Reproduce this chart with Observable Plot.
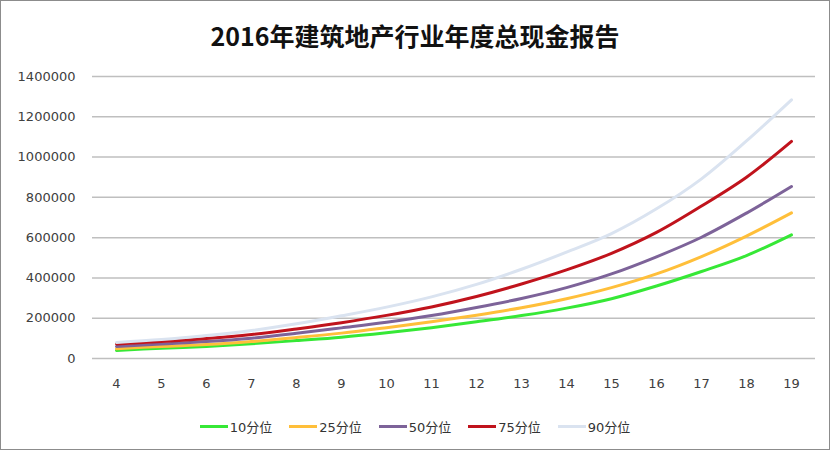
<!DOCTYPE html>
<html>
<head>
<meta charset="utf-8">
<script src="https://cdn.jsdelivr.net/npm/d3@7"></script>
<script src="https://cdn.jsdelivr.net/npm/@observablehq/plot@0.6"></script>
<style>
  html, body { margin: 0; padding: 0; background: #fff; }
  #frame { width: 830px; height: 450px; box-sizing: border-box; border: 1px solid #8c8c8c; position: relative; overflow: hidden; font-family: "DejaVu Sans", "Noto Sans CJK SC", sans-serif; }
  #title { height: 59px; line-height: 68px; text-align: center; font-size: 25px; font-weight: bold; color: #111; font-family: "Noto Sans CJK SC", sans-serif; }
  #legend { display: flex; justify-content: center; gap: 17px; margin-top: 12px; font-size: 13px; color: #333; padding-left: 0px; }
  .item { display: flex; align-items: center; }
  .sw { width: 28px; height: 3px; margin-right: 2px; }
</style>
</head>
<body>
<div id="frame">
  <div id="title">2016年建筑地产行业年度总现金报告</div>
  <div id="chart"></div>
  <div id="legend"></div>
</div>
<script>
const categories = [4, 5, 6, 7, 8, 9, 10, 11, 12, 13, 14, 15, 16, 17, 18, 19];
const p10 = [40000, 51000, 60000, 73000, 89000, 106000, 128000, 153000, 182000, 213000, 250000, 297000, 360000, 432000, 511000, 614000];
const p25 = [48000, 60000, 69000, 84000, 104000, 126000, 153000, 182000, 215000, 252000, 297000, 352000, 420000, 506000, 608000, 723000];
const p50 = [60000, 72000, 84000, 101000, 125000, 152000, 180000, 213000, 253000, 298000, 352000, 420000, 505000, 602000, 722000, 854000];
const p75 = [72000, 84000, 99000, 119000, 147000, 178000, 214000, 256000, 308000, 370000, 440000, 522000, 626000, 757000, 900000, 1078000];
const p90 = [80000, 94000, 114000, 139000, 172000, 212000, 255000, 306000, 368000, 443000, 528000, 620000, 743000, 892000, 1080000, 1284000];
const seriesNames = ["10分位", "25分位", "50分位", "75分位", "90分位"];
const seriesColors = ["#36e836", "#ffbf3a", "#7d6399", "#c0131c", "#dae3f0"];
const yTicks = [0, 200000, 400000, 600000, 800000, 1000000, 1200000, 1400000];

const seriesValues = [p10, p25, p50, p75, p90];
const data = [];
seriesNames.forEach((name, i) => {
  categories.forEach((c, j) => data.push({series: name, x: c, y: seriesValues[i][j]}));
});

const chart = Plot.plot({
  width: 828,
  height: 345,
  marginLeft: 91,
  marginRight: 14,
  marginTop: 16,
  marginBottom: 47,
  style: {fontFamily: "'DejaVu Sans', sans-serif", fontSize: "13px", color: "#333"},
  x: {type: "point", domain: categories, padding: 0.5, label: null},
  y: {domain: [0, 1400000], label: null},
  color: {domain: seriesNames, range: seriesColors},
  marks: [
    Plot.gridY(yTicks, {stroke: "#bfbfbf", strokeOpacity: 1, strokeWidth: 1.5}),
    Plot.axisY(yTicks, {tickSize: 0, tickPadding: 17, tickFormat: d => String(d), fill: "#404040", fontSize: 13, label: null}),
    Plot.axisX({tickSize: 0, tickPadding: 20, fill: "#404040", fontSize: 13, label: null}),
    Plot.line(data, {x: "x", y: "y", z: "series", stroke: "series", strokeWidth: 3, curve: "catmull-rom"})
  ]
});
document.getElementById("chart").appendChild(chart);

const legend = document.getElementById("legend");
seriesNames.forEach((name, i) => {
  const item = document.createElement("div");
  item.className = "item";
  const sw = document.createElement("div");
  sw.className = "sw";
  sw.style.background = seriesColors[i];
  const t = document.createElement("span");
  t.textContent = name;
  item.appendChild(sw);
  item.appendChild(t);
  legend.appendChild(item);
});
</script>
</body>
</html>
